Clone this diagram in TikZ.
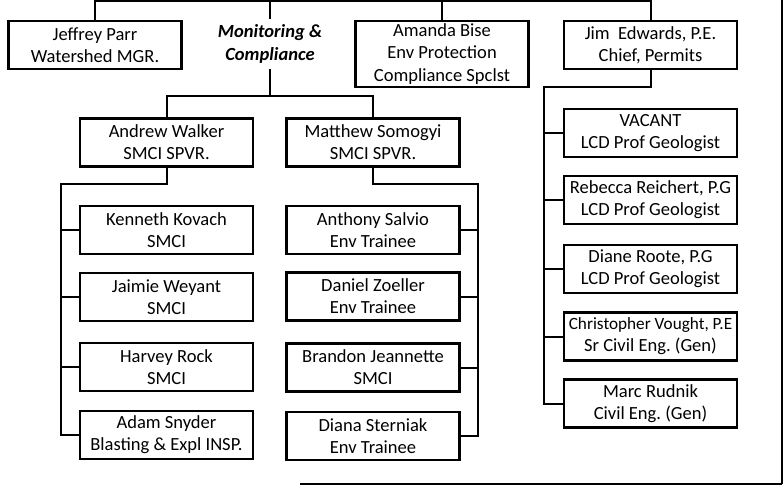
\documentclass[tikz,border=0pt]{standalone}
\usepackage{xcolor}
\usepackage{fontspec}
\setmainfont{Carlito}
\frenchspacing

\begin{document}
\begin{tikzpicture}[x=0.75pt,y=-0.75pt,
		box/.style={draw, line width=1.6pt, minimum width=129.75pt, minimum height=36pt,
			inner sep=0pt, align=center, font=\fontsize{13.9}{16.6}\selectfont},
		link/.style={line width=1.5pt}]
				% We will draw the chart here
				\useasboundingbox (0,0) rectangle (784,487);
				
				% top row
				\node[box] (jp) at (95,45) {Jeffrey Parr\\Watershed MGR.};
				\node[box, draw=none, font=\fontsize{13.9}{16.6}\selectfont\bfseries\itshape] (mc) at (270,44) {Monitoring \&\\Compliance};
				\node[box, minimum height=49.5pt] (ab) at (442,54) {Amanda Bise\\Env Protection\\Compliance Spclst};
				\node[box] (je) at (650.5,45) {Jim\ \ Edwards, P.E.\\Chief, Permits};
				
				% supervisors
				\node[box] (aw) at (166.5,142.5) {Andrew Walker\\SMCI SPVR.};
				\node[box] (ms) at (373,142.5) {Matthew Somogyi\\SMCI SPVR.};
				
				\node[box] (kk) at (166.5,230) {Kenneth Kovach\\SMCI};
				\node[box] (jw) at (166.5,297) {Jaimie Weyant\\SMCI};
				\node[box] (hr) at (166.5,367) {Harvey Rock\\SMCI};
				\node[box] (as) at (166.5,435) {Adam Snyder\\Blasting \& Expl INSP.};
				
				\node[box] (asa) at (373,230) {Anthony Salvio\\Env Trainee};
				\node[box] (dz) at (373,296.5) {Daniel Zoeller\\Env Trainee};
				\node[box] (bj) at (373,367.5) {Brandon Jeannette\\SMCI};
				\node[box] (ds) at (373,436) {Diana Sterniak\\Env Trainee};
				
				\node[box] (va) at (650.5,133) {VACANT\\LCD Prof Geologist};
				\node[box] (rr) at (650.5,200) {Rebecca Reichert, P.G\\LCD Prof Geologist};
				\node[box] (dr) at (650.5,269) {Diane Roote, P.G\\LCD Prof Geologist};
				\node[box] (cv) at (650.5,336.5) {{\fontsize{12.9}{16.6}\selectfont Christopher Vought, P.E}\\Sr Civil Eng. (Gen)};
				\node[box] (mr) at (650.5,403.5) {Marc Rudnik\\Civil Eng. (Gen)};
				
				% connectors
				\coordinate (top) at (95,1);
				\draw[link] (jp.north) -- (top) -| (je.north);
				\draw[link] (mc.north) -- (mc.north |- top);
				\draw[link] (ab.north) -- (ab.north |- top);
				
				\coordinate (mcbus) at (270,96);
				\draw[link] (mc.south) -- (mcbus);
				\draw[link] (aw.north) |- (mcbus) -| (ms.north);
				
				\coordinate (lspine) at (61,184);
				\draw[link] (aw.south) |- (lspine) |- (as.west);
				\foreach \n in {kk,jw,hr}
					\draw[link] (\n.west) -- (\n.west -| lspine);
				
				\coordinate (mspine) at (478,184);
				\draw[link] (ms.south) |- (mspine) |- (ds.east);
				\foreach \n in {asa,dz,bj}
					\draw[link] (\n.east) -- (\n.east -| mspine);
				
				\coordinate (rspine) at (544,87);
				\draw[link] (je.south) |- (rspine) |- (mr.west);
				\foreach \n in {va,rr,dr,cv}
					\draw[link] (\n.west) -- (\n.west -| rspine);
				
				% frame
				\coordinate (fr1) at (782,0);
				\coordinate (fr2) at (782,484);
				\coordinate (fr3) at (300,484);
				\draw[line width=1.5pt] (fr1) -- (fr2);
				\draw[line width=2.2pt] (fr2) -- (fr3);
				
			\end{tikzpicture}
\end{document}
